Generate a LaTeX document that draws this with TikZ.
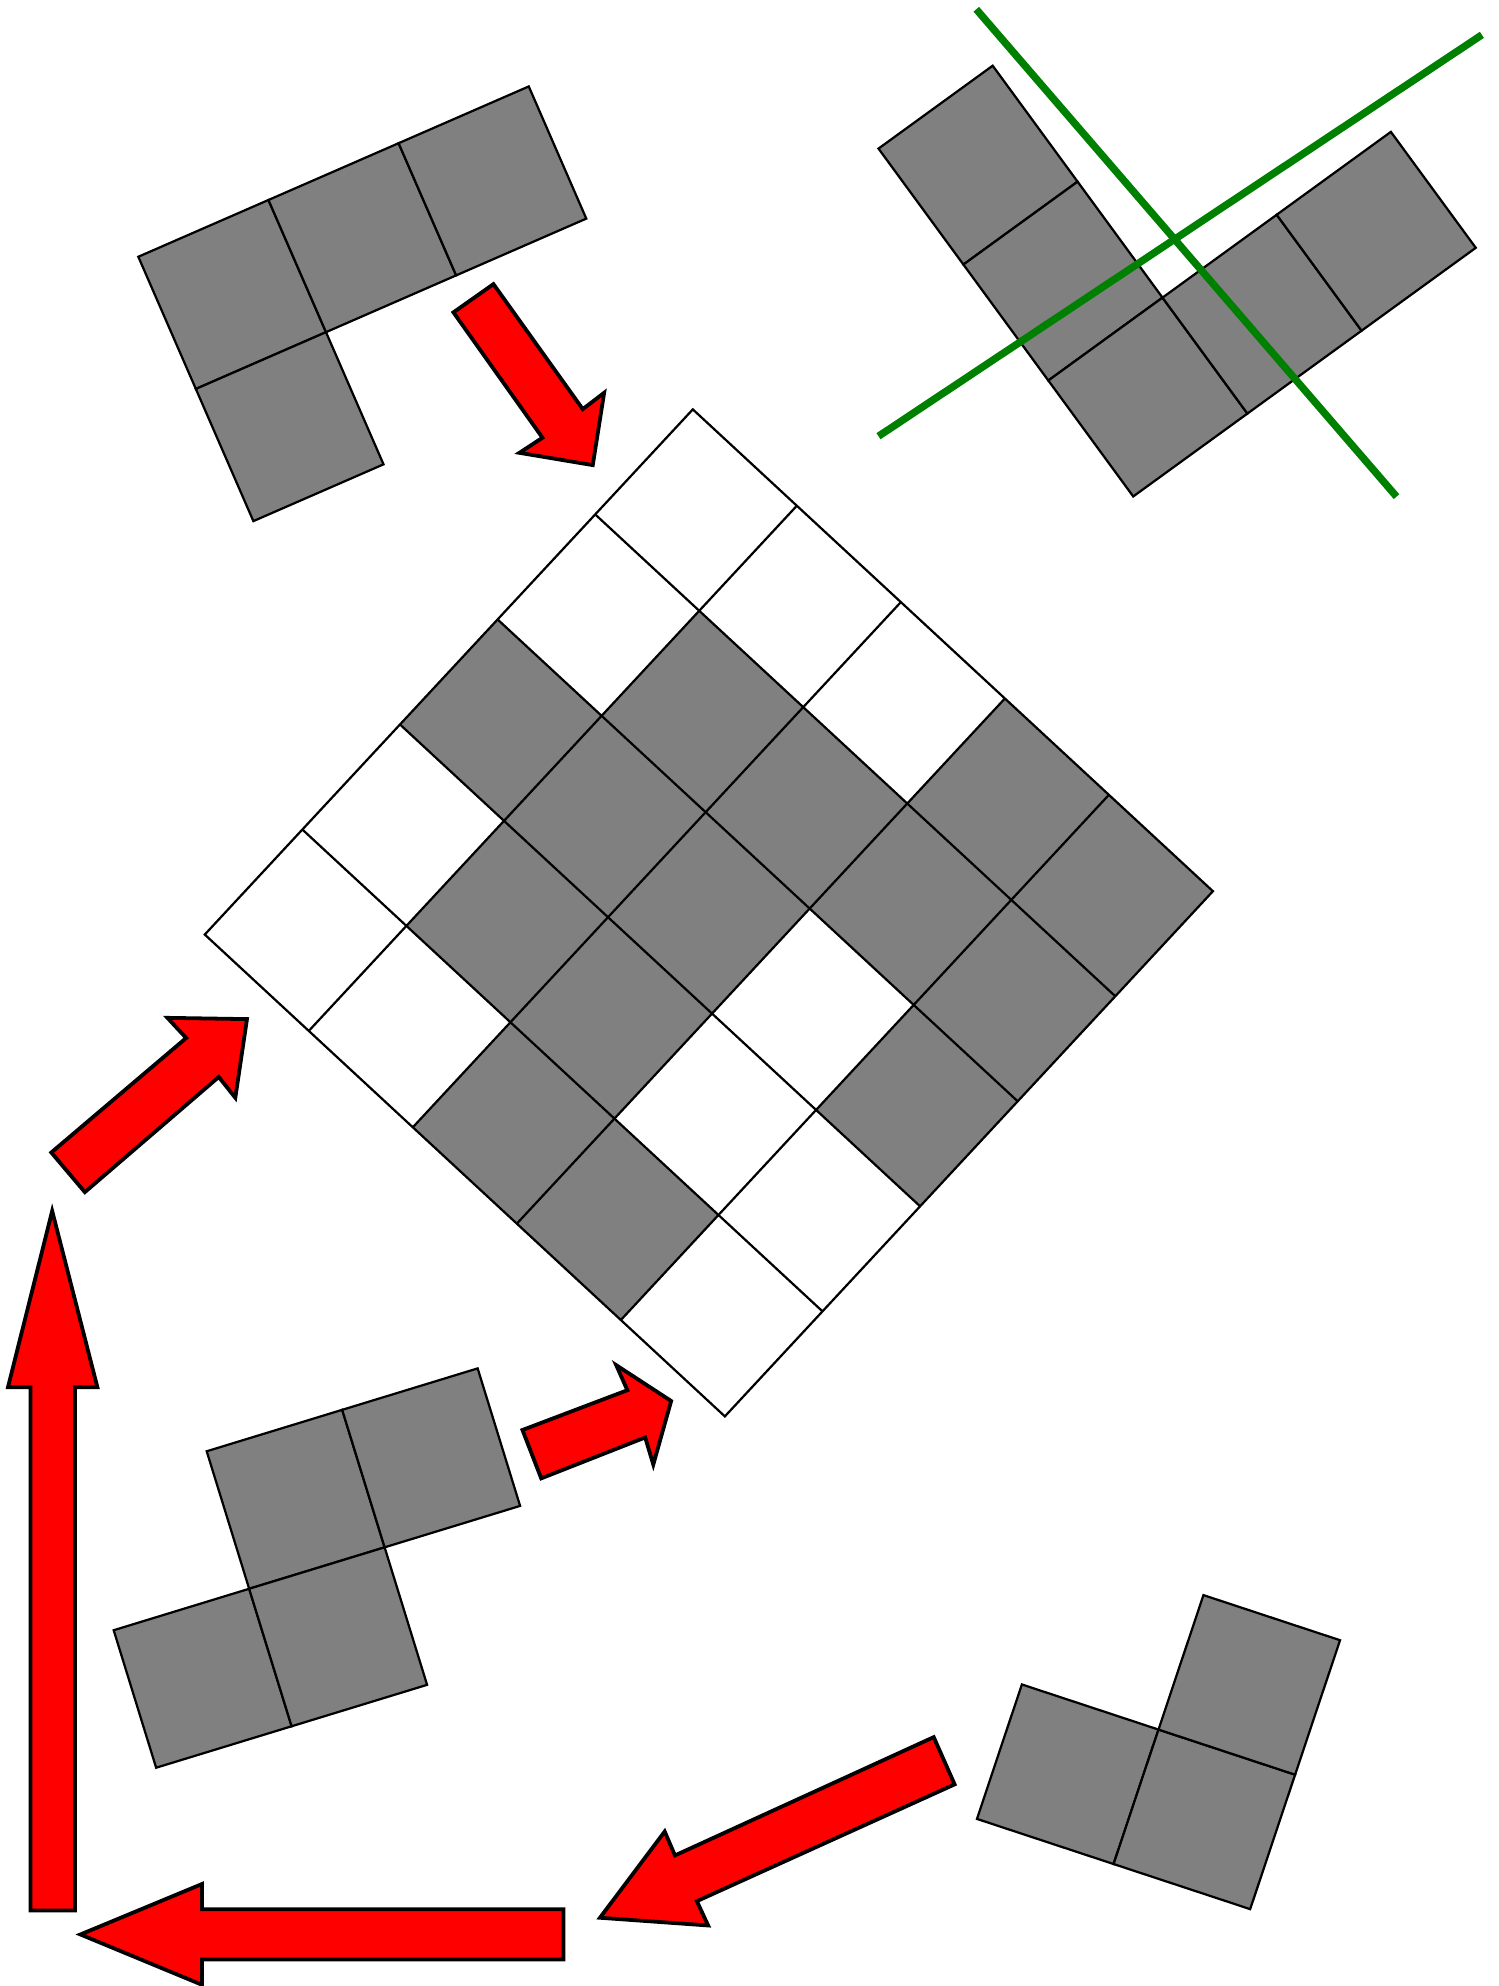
\documentclass[tikz,border=0pt]{standalone}
\usepackage{tikz}

\begin{document}
\begin{tikzpicture}[feld/.style={fill=gray, draw=black, line width=0.5pt},
				gitter/.style={draw=black, line width=0.5pt},
				pfeil/.style={fill=red, draw=black, line width=0.85pt},
				schnitt/.style={draw=green!50!black, line width=1.65pt},
				x=0.01cm, y=-0.01cm]   %Pixelkoordinaten, y nach unten
	\useasboundingbox (0,0) rectangle (1183,1568);
	% Spielfeld 5x5
	\begin{scope}[shift={(547,323.2)}, x={(0.8208cm,-0.7604cm)}, y={(-0.7702cm,-0.8288cm)}]
		\foreach \i/\j in {3/0,4/0,1/1,2/1,3/1,4/1,0/2,1/2,2/2,4/2,1/3,2/3,2/4,3/4}
			\fill[gray] (\i,\j) -- ++(1,0) -- ++(0,1) -- ++(-1,0) -- cycle;
		\draw[gitter] (0,0) -- (5,0) -- (5,5) -- (0,5) -- cycle;
		\foreach \k in {1,...,4} {
			\draw[gitter] (\k,0) -- (\k,5);
			\draw[gitter] (0,\k) -- (5,\k);
		}
	\end{scope}
	% L-Stein oben links
	\begin{scope}[shift={(109.2,202.7)}, x={(1.027cm,0.448cm)}, y={(0.454cm,-1.043cm)}]
		\foreach \i/\j in {0/0,1/0,2/0,0/1}
			\draw[feld] (\i,\j) -- ++(1,0) -- ++(0,1) -- ++(-1,0) -- cycle;
	\end{scope}
	% Stein oben rechts
	\begin{scope}[shift={(693.6,117.3)}, x={(0.901cm,0.654cm)}, y={(0.67cm,-0.915cm)}]
		\foreach \i/\j in {0/0,0/1,0/2,1/2,2/2}
			\draw[feld] (\i,\j) -- ++(1,0) -- ++(0,1) -- ++(-1,0) -- cycle;
	\end{scope}
	% S-Stein unten links
	\begin{scope}[shift={(163.2,1145.8)}, x={(1.069cm,0.327cm)}, y={(0.335cm,-1.085cm)}]
		\foreach \i/\j in {0/0,1/0,-1/1,0/1}
			\draw[feld] (\i,\j) -- ++(1,0) -- ++(0,1) -- ++(-1,0) -- cycle;
	\end{scope}
	% Dreier unten rechts
	\begin{scope}[shift={(806.8,1329.9)}, x={(1.078cm,-0.356cm)}, y={(-0.3545cm,-1.061cm)}]
		\foreach \i/\j in {0/0,1/0,1/-1}
			\draw[feld] (\i,\j) -- ++(1,0) -- ++(0,1) -- ++(-1,0) -- cycle;
	\end{scope}
	% Pfeile
	\draw[pfeil] (358,246.6) -- (389.6,224.3) -- (460.1,323) -- (477,310.1) -- (468,367.2) -- (410.1,357.5) -- (428.3,345.6) -- cycle;
	\draw[pfeil] (40.5,909.9) -- (67,941.2) -- (172.7,850.3) -- (185.8,866.7) -- (195,804.6) -- (132.2,803.6) -- (147,819.5) -- cycle;
	\draw[pfeil] (41.2,956.1) -- (76.9,1095.2) -- (59.2,1095.2) -- (59.2,1508.3) -- (24,1508.3) -- (24,1095.2) -- (6.3,1095.2) -- cycle;
	\draw[pfeil] (63.5,1527.3) -- (159.4,1487.5) -- (159.4,1507.4) -- (444.9,1507.4) -- (444.9,1547.1) -- (159.4,1547.1) -- (159.4,1567) -- cycle;
	\draw[pfeil] (412.5,1129) -- (427.3,1167.2) -- (509.4,1134.9) -- (515.8,1156.3) -- (529.9,1106.1) -- (486.5,1077.8) -- (495.3,1097.6) -- cycle;
	\draw[pfeil] (737.2,1371.5) -- (753.7,1408.8) -- (550.2,1501) -- (559.1,1520.2) -- (473.7,1514.1) -- (524.8,1446) -- (532.9,1464.9) -- cycle;
	% Schnittlinien
	\draw[schnitt] (770.8,7.3) -- (1102.6,392.1);
	\draw[schnitt] (693.6,344.4) -- (1170,27.5);
\end{tikzpicture}
\end{document}
